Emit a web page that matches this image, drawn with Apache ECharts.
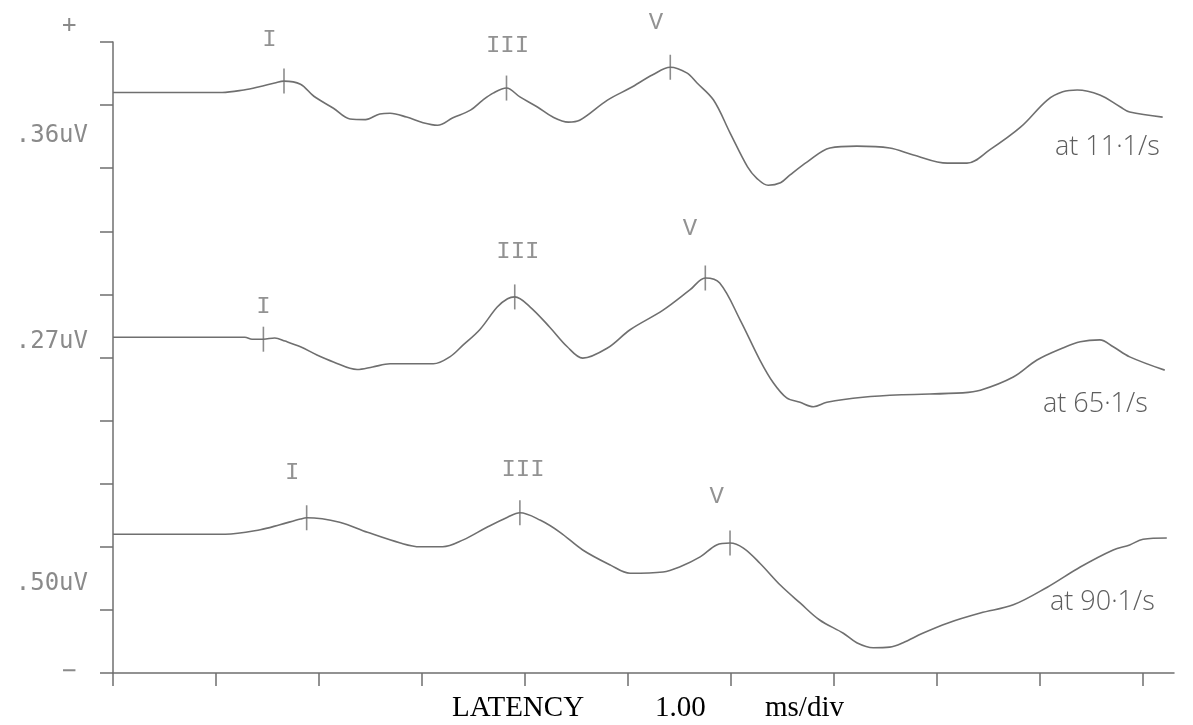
<!DOCTYPE html>
<html>
<head>
<meta charset="utf-8">
<title>BAER latency</title>
<script src="https://cdn.jsdelivr.net/npm/echarts@6/dist/echarts.min.js"></script>
<style>
  html, body { margin: 0; padding: 0; background: #fff; }
  #chart { width: 1193px; height: 725px; }
</style>
</head>
<body>
<div id="chart"></div>
<script>
// x = latency (ms), y = screen divisions from the bottom (0..10)
var msTicks = [0, 1, 2, 3, 4, 5, 6, 7, 8, 9, 10];

var trace11 = [
  [0, 9.2], [1.06, 9.2], [1.27, 9.24], [1.42, 9.29], [1.57, 9.35], [1.66, 9.38], [1.82, 9.33],
  [1.95, 9.14], [2.14, 8.95], [2.3, 8.78], [2.45, 8.77], [2.59, 8.86], [2.69, 8.87], [2.85, 8.81],
  [3.01, 8.72], [3.15, 8.68], [3.3, 8.8], [3.47, 8.92], [3.59, 9.08], [3.69, 9.19], [3.82, 9.27],
  [3.95, 9.13], [4.12, 8.97], [4.27, 8.81], [4.42, 8.73], [4.53, 8.76], [4.8, 9.08], [5.02, 9.27],
  [5.24, 9.48], [5.41, 9.6], [5.57, 9.51], [5.67, 9.35], [5.83, 9.08], [5.99, 8.56], [6.16, 8.02],
  [6.25, 7.84], [6.36, 7.73], [6.48, 7.77], [6.57, 7.89], [6.74, 8.1], [6.96, 8.32], [7.22, 8.35],
  [7.54, 8.32], [7.77, 8.21], [8.1, 8.08], [8.29, 8.08], [8.51, 8.29], [8.81, 8.65], [9.07, 9.08],
  [9.22, 9.21], [9.36, 9.24], [9.58, 9.16], [9.78, 8.97], [9.87, 8.89], [10.19, 8.81]
];
var trace65 = [
  [0, 5.32], [1.28, 5.32], [1.35, 5.29], [1.46, 5.29], [1.57, 5.31], [1.67, 5.26], [1.82, 5.17],
  [1.98, 5.04], [2.14, 4.93], [2.37, 4.81], [2.52, 4.85], [2.69, 4.9], [3.11, 4.9], [3.27, 5.01],
  [3.4, 5.2], [3.56, 5.44], [3.73, 5.8], [3.83, 5.93], [3.9, 5.96], [4.05, 5.8], [4.24, 5.48],
  [4.41, 5.17], [4.56, 4.99], [4.8, 5.15], [5.02, 5.44], [5.34, 5.75], [5.6, 6.07], [5.75, 6.26],
  [5.89, 6.18], [6.09, 5.59], [6.28, 4.96], [6.41, 4.6], [6.54, 4.36], [6.67, 4.29], [6.8, 4.22],
  [6.93, 4.29], [7.28, 4.37], [7.67, 4.41], [8.25, 4.44], [8.42, 4.48], [8.74, 4.69], [8.97, 4.96],
  [9.22, 5.15], [9.39, 5.25], [9.58, 5.28], [9.71, 5.17], [9.87, 5.01], [10.21, 4.8]
];
var trace90 = [
  [0, 2.2], [1.09, 2.2], [1.43, 2.27], [1.62, 2.35], [1.82, 2.44], [1.88, 2.46], [2.2, 2.39],
  [2.47, 2.23], [2.79, 2.06], [2.98, 2.0], [3.2, 2.0], [3.4, 2.11], [3.63, 2.31], [3.83, 2.47],
  [3.95, 2.54], [4.15, 2.42], [4.34, 2.23], [4.56, 1.95], [4.83, 1.71], [5.02, 1.58], [5.34, 1.6],
  [5.5, 1.68], [5.7, 1.84], [5.86, 2.03], [5.99, 2.06], [6.12, 1.98], [6.28, 1.74], [6.48, 1.39],
  [6.67, 1.11], [6.86, 0.84], [7.09, 0.63], [7.22, 0.48], [7.38, 0.4], [7.54, 0.41], [7.67, 0.48],
  [7.86, 0.63], [8.1, 0.79], [8.42, 0.95], [8.74, 1.08], [9.07, 1.36], [9.39, 1.68], [9.71, 1.95],
  [9.87, 2.03], [10.0, 2.12], [10.23, 2.14]
];

// wave peaks (marked with a small vertical cursor)
var peaks11 = [[1.66, 9.38], [3.82, 9.27], [5.41, 9.6]];
var peaks65 = [[1.46, 5.29], [3.9, 5.96], [5.75, 6.26]];
var peaks90 = [[1.88, 2.46], [3.95, 2.54], [5.99, 2.06]];

// wave names as written above the peaks
var waveNames = [
  [1.52, 10.03, 'I'], [3.83, 9.95, 'III'], [5.27, 10.3, 'V'],
  [1.46, 5.8, 'I'], [3.93, 6.67, 'III'], [5.6, 7.05, 'V'],
  [1.74, 3.17, 'I'], [3.98, 3.22, 'III'], [5.86, 2.79, 'V']
];

var gainLabels = ['.36uV', '.27uV', '.50uV'];
var rateLabels = ['at 11·1/s', 'at 65·1/s', 'at 90·1/s'];

var ink = '#6f6f6f';
var myChart = echarts.init(document.getElementById('chart'));

function trace(data) {
  return {
    type: 'line',
    data: data,
    smooth: 0.35,
    showSymbol: false,
    lineStyle: { color: ink, width: 1.6 },
    silent: true
  };
}
function cursors(data) {
  return {
    type: 'scatter',
    data: data,
    symbol: 'rect',
    symbolSize: [1.6, 25],
    itemStyle: { color: ink },
    silent: true
  };
}

var gainText = gainLabels.map(function (t, i) {
  return {
    type: 'text', right: 1193 - 88, top: [124, 330, 572][i],
    style: { text: t, font: '24px "DejaVu Sans Mono"', fill: '#8a8a8a' }
  };
});
var rateText = rateLabels.map(function (t, i) {
  return {
    type: 'text', left: [1055, 1043, 1050][i], top: [134, 391, 589][i],
    style: { text: t, font: '300 27px "Open Sans"', fill: '#5e5e5e' }
  };
});

myChart.setOption({
  animation: false,
  backgroundColor: '#fff',
  grid: { left: 113, right: 19, top: 42, bottom: 52, outerBoundsMode: 'none' },
  xAxis: {
    type: 'value', min: 0, max: 10.3, interval: 1,
    axisLine: { onZero: false, lineStyle: { color: ink, width: 1.5 } },
    axisTick: { show: true, length: 13, customValues: msTicks, lineStyle: { color: ink, width: 1.5 } },
    axisLabel: { show: false },
    splitLine: { show: false }
  },
  yAxis: {
    type: 'value', min: 0, max: 10, interval: 1,
    axisLine: { show: true, lineStyle: { color: ink, width: 1.5 } },
    axisTick: { show: true, length: 13, lineStyle: { color: ink, width: 1.5 } },
    axisLabel: { show: false },
    splitLine: { show: false }
  },
  graphic: [
    { type: 'text', left: 62, top: 14, style: { text: '+', font: '24px "DejaVu Sans Mono"', fill: '#8a8a8a' } },
    { type: 'text', left: 62, top: 660, style: { text: '−', font: '24px "DejaVu Sans Mono"', fill: '#8a8a8a' } },
    { type: 'text', left: 452, top: 694, style: { text: 'LATENCY', font: '29px "Liberation Serif"', fill: '#000' } },
    { type: 'text', left: 655, top: 694, style: { text: '1.00', font: '29px "Liberation Serif"', fill: '#000' } },
    { type: 'text', left: 765, top: 694, style: { text: 'ms/div', font: '29px "Liberation Serif"', fill: '#000' } }
  ].concat(gainText, rateText),
  series: [
    trace(trace11), trace(trace65), trace(trace90),
    cursors(peaks11), cursors(peaks65), cursors(peaks90),
    {
      type: 'scatter',
      data: waveNames,
      symbolSize: 0,
      clip: false,
      silent: true,
      label: {
        show: true, position: 'inside',
        formatter: function (p) { return p.data[2]; },
        fontFamily: 'Liberation Mono', fontSize: 24, color: '#777'
      }
    }
  ]
});
</script>
</body>
</html>
